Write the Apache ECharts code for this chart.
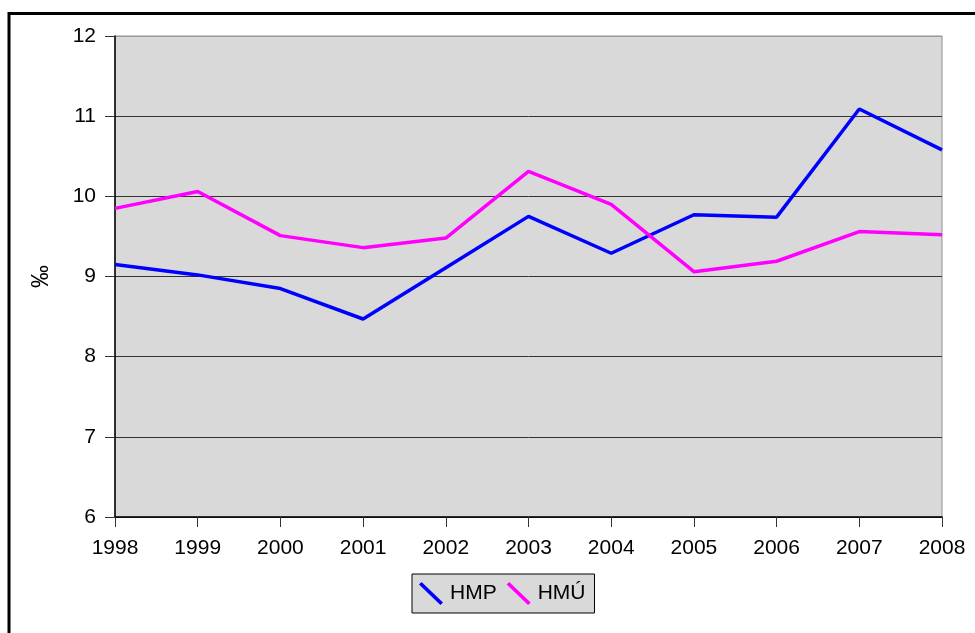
<!DOCTYPE html>
<html>
<head>
<meta charset="utf-8">
<script src="https://cdn.jsdelivr.net/npm/echarts@6/dist/echarts.min.js"></script>
<style>
  html, body { margin: 0; padding: 0; background: #fff; }
  #chart { width: 975px; height: 633px; }
</style>
</head>
<body>
<div id="chart"></div>
<script>
// data
const years = ['1998', '1999', '2000', '2001', '2002', '2003', '2004', '2005', '2006', '2007', '2008']
const hmp = [9.15, 9.02, 8.85, 8.47, 9.11, 9.75, 9.29, 9.77, 9.74, 11.09, 10.58]
const hmu = [9.85, 10.06, 9.51, 9.36, 9.48, 10.31, 9.90, 9.06, 9.19, 9.56, 9.52]
const seriesNames = ['HMP', 'HMÚ']
const yMin = 6
const yMax = 12

const font = '"Liberation Sans", Arial, sans-serif'
const lineIcon = 'path://M0,2.6 L2.6,0 L24,20.4 L21.4,23 Z'

const chart = echarts.init(document.getElementById('chart'))

chart.setOption({
  animation: false,
  textStyle: { fontFamily: font, color: '#000' },
  grid: {
    left: 115,
    right: 33,
    top: 36,
    bottom: 116,
    show: true,
    backgroundColor: '#D9D9D9',
    borderColor: '#909090',
    borderWidth: 1
  },
  legend: {
    left: 412,
    top: 574,
    orient: 'horizontal',
    backgroundColor: '#D9D9D9',
    borderColor: '#000',
    borderWidth: 1,
    borderRadius: 0,
    padding: [8, 9, 8, 7],
    itemWidth: 24,
    itemHeight: 23,
    itemGap: 10,
    textStyle: { fontSize: 21, fontFamily: font, color: '#000', padding: [0, 0, 0, 2] },
    data: [
      { name: seriesNames[0], icon: lineIcon, itemStyle: { color: '#0000FF' } },
      { name: seriesNames[1], icon: lineIcon, itemStyle: { color: '#FF00FF' } }
    ]
  },
  xAxis: {
    type: 'category',
    data: years,
    boundaryGap: false,
    axisLine: { lineStyle: { color: '#000', width: 1.5 } },
    axisTick: { show: true, length: 10, lineStyle: { color: '#333' } },
    axisLabel: { fontSize: 21, color: '#000', margin: 21, fontFamily: font },
    splitLine: { show: false }
  },
  yAxis: {
    type: 'value',
    min: yMin,
    max: yMax,
    interval: 1,
    name: '‰',
    nameLocation: 'middle',
    nameRotate: 90,
    nameGap: 62,
    nameTextStyle: { fontSize: 23, color: '#000', fontFamily: font },
    axisLine: { show: true, lineStyle: { color: '#000', width: 1.5 } },
    axisTick: { show: true, length: 10, lineStyle: { color: '#333' } },
    axisLabel: { fontSize: 21, color: '#000', margin: 19, fontFamily: font },
    splitLine: {
      show: true,
      lineStyle: { color: ['#333', '#333', '#333', '#333', '#333', '#333', '#999'], width: 1 }
    }
  },
  graphic: [
    {
      type: 'rect',
      shape: { x: 9, y: 13.5, width: 1000, height: 700 },
      style: { fill: 'none', stroke: '#000', lineWidth: 3 },
      silent: true,
      z: 100
    }
  ],
  series: [
    {
      name: seriesNames[0],
      type: 'line',
      data: hmp,
      symbol: 'none',
      lineStyle: { color: '#0000FF', width: 3.5 },
      itemStyle: { color: '#0000FF' }
    },
    {
      name: seriesNames[1],
      type: 'line',
      data: hmu,
      symbol: 'none',
      lineStyle: { color: '#FF00FF', width: 3.5 },
      itemStyle: { color: '#FF00FF' }
    }
  ]
})
</script>
</body>
</html>
